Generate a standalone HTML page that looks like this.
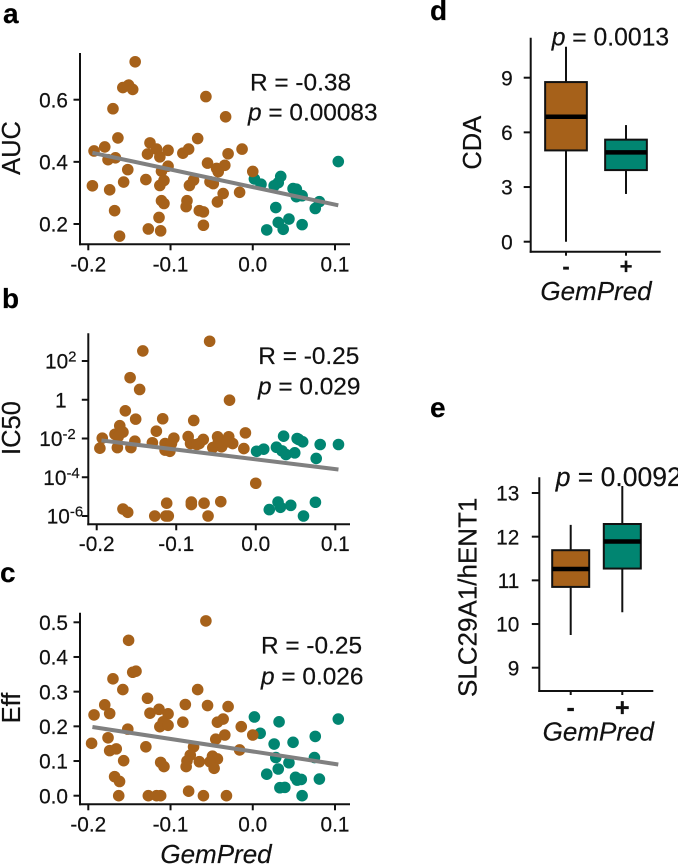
<!DOCTYPE html>
<html lang="en">
<head>
<meta charset="utf-8">
<title>GemPred correlation and box plots</title>
<style>
html,body{margin:0;padding:0;background:#fff;width:678px;height:866px;overflow:hidden}
svg{display:block}
text{font-family:"Liberation Sans",Arial,sans-serif;fill:#111;stroke:#111;stroke-width:.2px}
.tick{font-size:20.8px}
.stat{font-size:24.4px}
.ytitle{font-size:25.5px}
.xtitle{font-size:26px;font-style:italic}
.letter{font-size:28px;font-weight:bold;fill:#000}
.cat{font-weight:bold}
</style>
</head>
<body>
<svg id="figure" width="678" height="866" viewBox="0 0 678 866" xmlns="http://www.w3.org/2000/svg">
  <g id="panel-a"></g>
  <g id="panel-b"></g>
  <g id="panel-c"></g>
  <g id="panel-d"></g>
  <g id="panel-e"></g>

  <text class="letter" x="3" y="23">a</text>
  <text class="letter" x="2" y="308">b</text>
  <text class="letter" x="0" y="582">c</text>
  <text class="letter" x="430" y="20">d</text>
  <text class="letter" x="430" y="417">e</text>

  <text class="ytitle" transform="translate(20,148) rotate(-90)" text-anchor="middle">AUC</text>
  <text class="ytitle" transform="translate(20,428) rotate(-90)" text-anchor="middle">IC50</text>
  <text class="ytitle" transform="translate(20,708) rotate(-90)" text-anchor="middle">Eff</text>
  <text class="ytitle" transform="translate(481,142.7) rotate(-90)" text-anchor="middle">CDA</text>
  <text class="ytitle" transform="translate(476.7,597.3) rotate(-90)" text-anchor="middle" style="font-size:26px">SLC29A1/hENT1</text>

  <text class="xtitle" x="216" y="863" text-anchor="middle">GemPred</text>
  <text class="xtitle" x="596" y="300" text-anchor="middle">GemPred</text>
  <text class="xtitle" x="598.3" y="740.7" text-anchor="middle">GemPred</text>

  <text class="stat" x="250" y="90.7">R = -0.38</text>
  <text class="stat" x="248" y="120.7"><tspan font-style="italic">p</tspan> = 0.00083</text>
  <text class="stat" x="258.3" y="364">R = -0.25</text>
  <text class="stat" x="258" y="394.3"><tspan font-style="italic">p</tspan> = 0.029</text>
  <text class="stat" x="261" y="653.3">R = -0.25</text>
  <text class="stat" x="261" y="684.3"><tspan font-style="italic">p</tspan> = 0.026</text>
  <text x="551.7" y="45.7" style="font-size:24.7px"><tspan font-style="italic">p</tspan> = 0.0013</text>
  <text x="555.7" y="486" style="font-size:26.5px"><tspan font-style="italic">p</tspan> = 0.0092</text>
</svg>
<script>
// ---------- chart data ----------
const xTicks = [-0.2, -0.1, 0.0, 0.1];
const xTickLabels = ['-0.2', '-0.1', '0.0', '0.1'];

const aTicks = [0.2, 0.4, 0.6];
const aTickLabels = ['0.2', '0.4', '0.6'];
const aBrownX = [-.193,-.180,-.167,-.176,-.164,-.195,-.174,-.157,-.152,-.168,-.162,-.170,-.158,-.151,-.146,-.143,-.125,-.128,-.117,-.113,-.103,-.103,-.111,-.130,-.113,-.108,-.111,-.108,-.114,-.127,-.112,-.085,-.078,-.067,-.057,-.033,-.030,-.013,-.055,-.044,-.034,-.042,-.052,-.048,-.072,-.077,-.080,-.081,-.065,-.060,-.060,-.036,-.043,-.016,0];
const aBrownY = [.435,.448,.413,.407,.477,.323,.310,.335,.375,.243,.161,.571,.639,.647,.633,.722,.461,.425,.441,.416,.437,.386,.370,.343,.324,.340,.275,.266,.221,.184,.178,.428,.441,.475,.610,.545,.426,.441,.396,.379,.389,.368,.336,.330,.341,.324,.275,.256,.243,.239,.196,.298,.271,.302,.369];
const aTealX = [.002,.010,.034,.031,.026,.049,.053,.053,.060,.081,.076,.028,.044,.031,.037,.017,.060,.104];
const aTealY = [.345,.328,.353,.333,.323,.314,.312,.288,.291,.272,.250,.253,.216,.205,.183,.181,.198,.401];
const aFitX = [-.195, .104];
const aFitY = [.429, .260];

const bTickExponents = [2, 0, -2, -4, -6];
const bBrownX = [-.193,-.196,-.174,-.177,-.171,-.167,-.173,-.164,-.151,-.152,-.157,-.158,-.146,-.142,-.058,-.033,-.117,-.125,-.078,-.013,-.015,-.130,-.114,-.114,-.108,-.103,-.106,-.085,-.082,-.074,-.066,-.071,-.048,-.054,-.043,-.034,-.029,-.047,-.036,0,-.167,-.161,-.112,-.127,-.113,-.110,-.081,-.081,-.065,-.060,-.044];
const bBrownLog10 = [-1.98,-2.50,-2.47,-1.78,-1.34,-1.67,-1.91,-.57,-1.0,-2.14,-2.47,1.14,.53,2.52,3.02,-.02,-.98,-1.62,-1.07,-1.71,-2.52,-2.22,-2.26,-2.60,-2.66,-1.98,-2.26,-1.90,-2.26,-2.31,-2.05,-2.26,-1.91,-2.47,-2.43,-1.91,-2.26,-2.17,-2.17,-4.31,-5.64,-5.81,-5.34,-6,-6,-6,-5.28,-5.41,-5.34,-6,-5.26];
const bTealX = [.001,.010,.035,.026,.033,.038,.049,.052,.054,.059,.081,.076,.104,.017,.028,.031,.044,.060,.075];
const bTealLog10 = [-2.66,-2.55,-1.88,-2.45,-2.64,-2.83,-2.74,-2.0,-2.05,-2.17,-2.31,-3.03,-2.31,-5.67,-5.28,-5.55,-5.45,-6,-5.29];
const bFitX = [-.194, .104];
const bFitLog10 = [-2.10, -3.60];

const cTicks = [0, 0.1, 0.2, 0.3, 0.4, 0.5];
const cTickLabels = ['0.0', '0.1', '0.2', '0.3', '0.4', '0.5'];
const cBrownX = [-.193,-.180,-.174,-.170,-.158,-.151,-.146,-.142,-.152,-.196,-.176,-.174,-.166,-.157,-.168,-.162,-.163,-.128,-.125,-.114,-.103,-.109,-.113,-.103,-.130,-.112,-.108,-.127,-.117,-.112,-.082,-.085,-.067,-.057,-.055,-.030,-.036,-.043,-.034,-.045,-.014,0,-.016,-.072,-.076,-.080,-.081,-.065,-.049,-.043,-.052,-.047,-.078,-.060,-.032];
const cBrownY = [.233,.262,.237,.337,.306,.448,.356,.359,.192,.151,.167,.130,.135,.101,.055,.041,0,.281,.238,.249,.236,.213,.199,.203,.141,.096,.084,0,0,0,.263,.212,.306,.504,.260,.257,.221,.212,.175,.163,.199,.175,.132,.141,.117,.100,.084,.098,.114,.106,.098,.079,.013,0,0];
const cTealX = [.002,.009,.032,.026,.049,.076,.104,.075,.028,.044,.031,.017,.052,.054,.059,.081,.033,.039,.060];
const cTealY = [.227,.180,.213,.149,.154,.171,.221,.110,.110,.095,.077,.062,.053,.045,.047,.048,.023,.024,0];
const cFitX = [-.195, .104];
const cFitY = [.198, .090];

const boxCategories = ['-', '+'];
const boxColors = ['#a6611a', '#018571'];

const dTicks = [0, 3, 6, 9];
const dWhiskerLow = [0, 2.62];
const dQ1 = [5.01, 3.93];
const dMedian = [6.86, 4.90];
const dQ3 = [8.76, 5.60];
const dWhiskerHigh = [10.7, 6.40];

const eTicks = [9, 10, 11, 12, 13];
const eWhiskerLow = [9.75, 10.27];
const eQ1 = [10.85, 11.27];
const eMedian = [11.26, 11.89];
const eQ3 = [11.69, 12.29];
const eWhiskerHigh = [12.27, 13.16];

// ---------- drawing helpers ----------
const SVG_NS = 'http://www.w3.org/2000/svg';
const INK = '#111';
function make(tag, geometry, parent) {
  const node = document.createElementNS(SVG_NS, tag);
  for (const key in geometry) node.setAttribute(key, geometry[key]);
  parent.appendChild(node);
  return node;
}
function linear(d0, r0, d1, r1) {
  return function (v) { return r0 + (v - d0) * (r1 - r0) / (d1 - d0); };
}
function drawAxes(g, left, bottom, top, right) {
  const yAxis = make('line', {x1: left, x2: left, y1: top, y2: bottom + 1, stroke: INK, 'stroke-width': 2}, g);
  
  
  const xAxis = make('line', {x1: left - 1, x2: right, y1: bottom, y2: bottom, stroke: INK, 'stroke-width': 2}, g);
  
  
}
function drawYTick(g, left, y, len) {
  const t = make('line', {x1: left - len, x2: left, y1: y, y2: y, stroke: INK, 'stroke-width': 2}, g);
  
  
}
function drawXTick(g, bottom, x, len) {
  const t = make('line', {x1: x, x2: x, y1: bottom, y2: bottom + len, stroke: INK, 'stroke-width': 2}, g);
  
  
}
function drawYLabel(g, x, y, label) {
  const t = make('text', {class: 'tick', x: x, y: y + 7.6, 'text-anchor': 'end'}, g);
  t.textContent = label;
  
  
}
function drawXLabels(g, sx, bottom, baseline) {
  xTicks.forEach(function (v, i) {
    drawXTick(g, bottom, sx(v), 6);
    const t = make('text', {class: 'tick', x: sx(v), y: baseline, 'text-anchor': 'middle'}, g);
    t.textContent = xTickLabels[i];
    
    
  });
}
function drawPoints(g, xs, ys, sx, sy, color, name) {
  xs.forEach(function (v, i) {
    const p = make('circle', {cx: sx(v), cy: sy(ys[i]), r: 5.8, fill: color}, g);
    
    
  });
}
function drawFit(g, fx, fy, sx, sy) {
  const l = make('line', {x1: sx(fx[0]), y1: sy(fy[0]), x2: sx(fx[1]), y2: sy(fy[1]), stroke: '#808080', 'stroke-width': 4}, g);
  
  
}
function drawBoxes(g, centers, boxW, sy, low, q1, med, q3, high) {
  centers.forEach(function (cx, i) {
    const w = make('line', {x1: cx, x2: cx, y1: sy(high[i]), y2: sy(low[i]), stroke: INK, 'stroke-width': 2}, g);
    
    
    const b = make('rect', {x: cx - boxW / 2, y: sy(q3[i]), width: boxW, height: sy(q1[i]) - sy(q3[i]), fill: boxColors[i], stroke: INK, 'stroke-width': 2}, g);
    
    
    const m = make('line', {x1: cx - boxW / 2, x2: cx + boxW / 2, y1: sy(med[i]), y2: sy(med[i]), stroke: '#000', 'stroke-width': 4.5}, g);
    
    
  });
}
function drawCats(g, centers, bottom, baseline, size) {
  centers.forEach(function (cx, i) {
    drawXTick(g, bottom, cx, 4);
    const t = make('text', {class: 'cat', x: cx, y: baseline, 'text-anchor': 'middle', 'font-size': size}, g);
    t.textContent = boxCategories[i];
    
    
  });
}

// ---------- panel a ----------
(function () {
  const g = document.getElementById('panel-a');
  const sx = linear(-0.2, 88.3, 0.1, 335);
  const sy = linear(0.2, 224, 0.6, 99.7);
  drawAxes(g, 80, 244.3, 53, 350);
  aTicks.forEach(function (v, i) { drawYTick(g, 80, sy(v), 6.5); drawYLabel(g, 68, sy(v), aTickLabels[i]); });
  drawXLabels(g, sx, 244.3, 271.7);
  drawPoints(g, aTealX, aTealY, sx, sy, '#018571', 'point-gempred-positive');
  drawPoints(g, aBrownX, aBrownY, sx, sy, '#a6611a', 'point-gempred-negative');
  drawFit(g, aFitX, aFitY, sx, sy);
})();

// ---------- panel b ----------
(function () {
  const g = document.getElementById('panel-b');
  const sx = linear(-0.2, 96.7, 0.1, 335.3);
  const sy = linear(2, 361, -6, 516);
  const labelStart = {'2': 45, '0': 55, '-2': 39.3, '-4': 43.3, '-6': 46.7};
  drawAxes(g, 88.3, 524.3, 333.3, 350);
  bTickExponents.forEach(function (e) {
    drawYTick(g, 88.3, sy(e), 6.5);
    const t = make('text', {class: 'tick', x: labelStart[String(e)], y: sy(e) + 7.6}, g);
    
    
    if (e === 0) {
      t.textContent = '1';
    } else {
      t.textContent = '10';
      const s = make('tspan', {dy: -7, 'font-size': 15}, t);
      s.textContent = String(e);
    }
  });
  drawXLabels(g, sx, 524.3, 551);
  drawPoints(g, bTealX, bTealLog10, sx, sy, '#018571', 'point-gempred-positive');
  drawPoints(g, bBrownX, bBrownLog10, sx, sy, '#a6611a', 'point-gempred-negative');
  drawFit(g, bFitX, bFitLog10, sx, sy);
})();

// ---------- panel c ----------
(function () {
  const g = document.getElementById('panel-c');
  const sx = linear(-0.2, 88.3, 0.1, 335);
  const sy = linear(0, 795.7, 0.5, 622.3);
  drawAxes(g, 80, 804.3, 612.7, 350);
  cTicks.forEach(function (v, i) { drawYTick(g, 80, sy(v), 6.5); drawYLabel(g, 68, sy(v), cTickLabels[i]); });
  drawXLabels(g, sx, 804.3, 831.7);
  drawPoints(g, cTealX, cTealY, sx, sy, '#018571', 'point-gempred-positive');
  drawPoints(g, cBrownX, cBrownY, sx, sy, '#a6611a', 'point-gempred-negative');
  drawFit(g, cFitX, cFitY, sx, sy);
})();

// ---------- panel d ----------
(function () {
  const g = document.getElementById('panel-d');
  const sy = linear(0, 241.7, 9, 77.7);
  const centers = boxCategories.map(function (_, i) { return 566 + i * 60; });
  drawAxes(g, 530.7, 251.7, 37.7, 660.7);
  dTicks.forEach(function (v) { drawYTick(g, 530.7, sy(v), 7); drawYLabel(g, 512.7, sy(v), String(v)); });
  drawCats(g, centers, 251.7, 274, 22);
  drawBoxes(g, centers, 41.7, sy, dWhiskerLow, dQ1, dMedian, dQ3, dWhiskerHigh);
})();

// ---------- panel e ----------
(function () {
  const g = document.getElementById('panel-e');
  const sy = linear(9, 667.7, 13, 493);
  const centers = boxCategories.map(function (_, i) { return 570.7 + i * 51.6; });
  drawAxes(g, 539.3, 691, 477.3, 653.3);
  eTicks.forEach(function (v) { drawYTick(g, 539.3, sy(v), 7.5); drawYLabel(g, 519.3, sy(v), String(v)); });
  drawCats(g, centers, 691, 716, 25);
  drawBoxes(g, centers, 37, sy, eWhiskerLow, eQ1, eMedian, eQ3, eWhiskerHigh);
})();
</script>
</body>
</html>
